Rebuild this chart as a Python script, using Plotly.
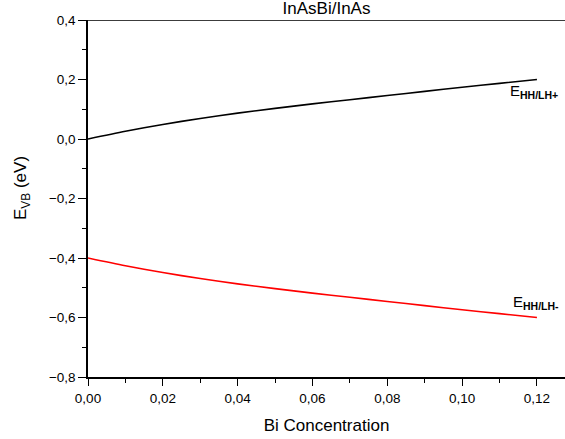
import plotly.graph_objects as go

# Bi concentration and valence-band edge energies (eV)
bi_conc = [0.00, 0.01, 0.02, 0.03, 0.04, 0.05, 0.06, 0.07, 0.08, 0.09, 0.10, 0.11, 0.12]
e_plus = [0.000, 0.026, 0.049, 0.069, 0.087, 0.103, 0.118, 0.132, 0.146, 0.160, 0.174, 0.187, 0.200]
e_minus = [-0.400, -0.426, -0.449, -0.469, -0.487, -0.503, -0.518, -0.532, -0.546, -0.560, -0.574, -0.587, -0.600]

x_ticks = [0.00, 0.02, 0.04, 0.06, 0.08, 0.10, 0.12]
y_ticks = [-0.8, -0.6, -0.4, -0.2, 0.0, 0.2, 0.4]

FONT = "Liberation Sans, Arial, sans-serif"

fig = go.Figure()
fig.add_trace(go.Scatter(x=bi_conc, y=e_plus, mode="lines",
                         line=dict(color="black", width=1.6, shape="spline", smoothing=0.8),
                         showlegend=False))
fig.add_trace(go.Scatter(x=bi_conc, y=e_minus, mode="lines",
                         line=dict(color="#ff0000", width=1.6, shape="spline", smoothing=0.8),
                         showlegend=False))

fig.update_layout(
    width=565, height=439,
    margin=dict(l=88, r=0, t=20, b=62),
    paper_bgcolor="white", plot_bgcolor="white",
    separators=", ",
    font=dict(family=FONT, color="black", size=13.5),
    title=dict(text="InAsBi/InAs", x=(88 + 565) / 2 / 565, xanchor="center",
               y=1 - 8 / 439, yanchor="middle", font=dict(size=17)),
    xaxis=dict(
        range=[0, 0.1275], tickvals=x_ticks, tickformat=".2f",
        showgrid=False, zeroline=False,
        showline=True, linecolor="black", linewidth=1.5,
        ticks="outside", ticklen=7, tickwidth=1.3, tickcolor="black",
        ticklabelstandoff=1,
        minor=dict(dtick=0.01, ticks="outside", ticklen=4, tickwidth=1.2, tickcolor="black"),
        title=dict(text="Bi Concentration", font=dict(size=17), standoff=14),
    ),
    yaxis=dict(
        range=[-0.8, 0.4], tickvals=y_ticks, tickformat=".1f",
        showgrid=False, zeroline=False,
        showline=True, linecolor="black", linewidth=1.5,
        ticks="outside", ticklen=8, tickwidth=1.3, tickcolor="black",
        minor=dict(dtick=0.1, ticks="outside", ticklen=4, tickwidth=1.2, tickcolor="black"),
    ),
    shapes=[dict(type="line", xref="paper", yref="y", x0=0, x1=1, y0=0.4, y1=0.4,
                 line=dict(color="#3c3c3c", width=2))],
    annotations=[
        dict(text="E<sub>VB</sub> (eV)", xref="paper", yref="paper",
             x=-66 / 477, y=(377 - 188) / 357, xanchor="center", yanchor="middle",
             textangle=-90, showarrow=False, font=dict(size=17)),
        dict(text="E<sub><b>HH/LH+</b></sub>", x=0.1122, y=0.161, xref="x", yref="y",
             xanchor="left", yanchor="middle", showarrow=False, font=dict(size=15)),
        dict(text="E<sub><b>HH/LH-</b></sub>", x=0.1131, y=-0.55, xref="x", yref="y",
             xanchor="left", yanchor="middle", showarrow=False, font=dict(size=15)),
    ],
)

fig.write_html("out.html")
